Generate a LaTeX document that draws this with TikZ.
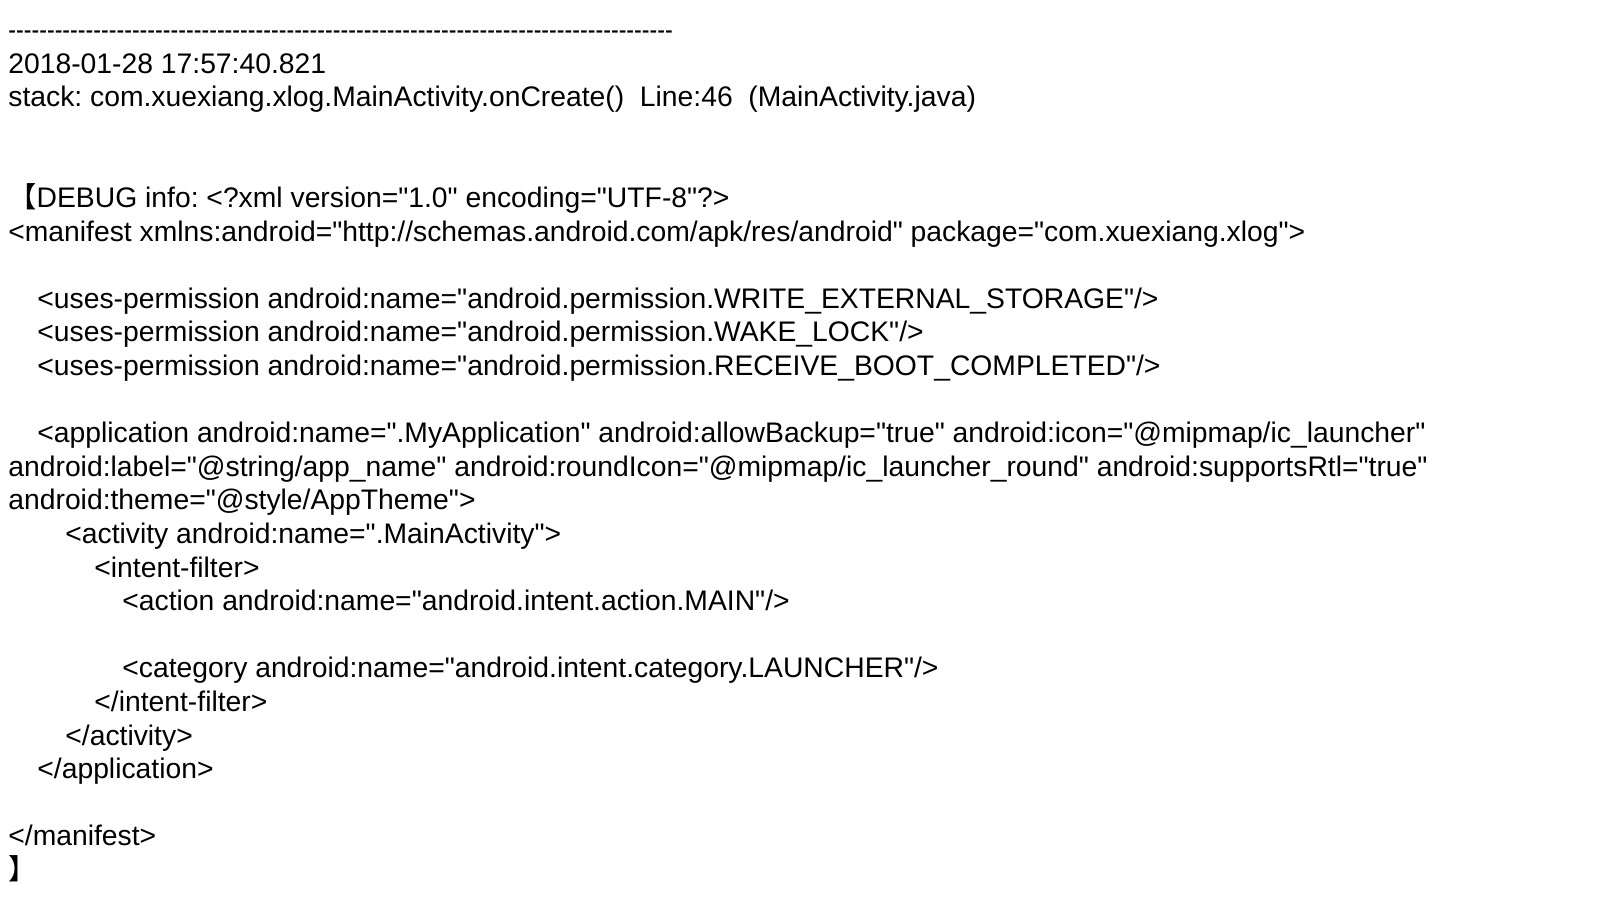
\documentclass[tikz,border=0pt]{standalone}
\usepackage{graphicx}
\usepackage{fontspec}
\setmainfont{Liberation Sans}[Ligatures=TeXOff]
\newfontfamily\cjkfont{Noto Sans CJK SC}
\frenchspacing
\begin{document}
\begin{tikzpicture}[x=0.5bp,y=-0.5bp,
	logline/.style={anchor=base west,inner sep=0pt,font=\fontsize{14.2}{17}\selectfont}]
	\useasboundingbox[fill=white] (0,0) rectangle (1610,922);
	\node[logline] (rule) at (8,39.5) {\scalebox{0.82}[1]{\foreach \i in {1,...,86}{-}}};
	\node[logline] (time) at (8,73.1) {2018-01-28 17:57:40.821};
	\node[logline] (stack) at (8,106.7) {stack: com.xuexiang.xlog.MainActivity.onCreate()\ \ Line:46\ \ (MainActivity.java)};
	\node[logline] (debug) at (8,207.5) {{\cjkfont 【}DEBUG info: <?xml version="1.0" encoding="UTF-8"?>};
	\node[logline] (manifest) at (8,241.1) {<manifest xmlns:android="http://schemas.android.com/apk/res/android" package="com.xuexiang.xlog">};
	\node[logline] (perm1) at (37,308.3) {<uses-permission android:name="android.permission.WRITE\_EXTERNAL\_STORAGE"/>};
	\node[logline] (perm2) at (37,341.9) {<uses-permission android:name="android.permission.WAKE\_LOCK"/>};
	\node[logline] (perm3) at (37,375.5) {<uses-permission android:name="android.permission.RECEIVE\_BOOT\_COMPLETED"/>};
	\node[logline] (app) at (37,442.7) {<application android:name=".MyApplication" android:allowBackup="true" android:icon="@mipmap/ic\_launcher"};
	\node[logline] (applabel) at (8,476.3) {android:label="@string/app\_name" android:roundIcon="@mipmap/ic\_launcher\_round" android:supportsRtl="true"};
	\node[logline] (apptheme) at (8,509.9) {android:theme="@style/AppTheme">};
	\node[logline] (activity) at (65,543.5) {<activity android:name=".MainActivity">};
	\node[logline] (filter) at (94,577.1) {<intent-filter>};
	\node[logline] (action) at (122,610.7) {<action android:name="android.intent.action.MAIN"/>};
	\node[logline] (category) at (122,677.9) {<category android:name="android.intent.category.LAUNCHER"/>};
	\node[logline] (filterend) at (94,711.5) {</intent-filter>};
	\node[logline] (activityend) at (65,745.1) {</activity>};
	\node[logline] (append) at (37,778.7) {</application>};
	\node[logline] (manifestend) at (8,845.9) {</manifest>};
	\node[logline] (close) at (8,879.5) {\cjkfont 】};
\end{tikzpicture}
\end{document}
